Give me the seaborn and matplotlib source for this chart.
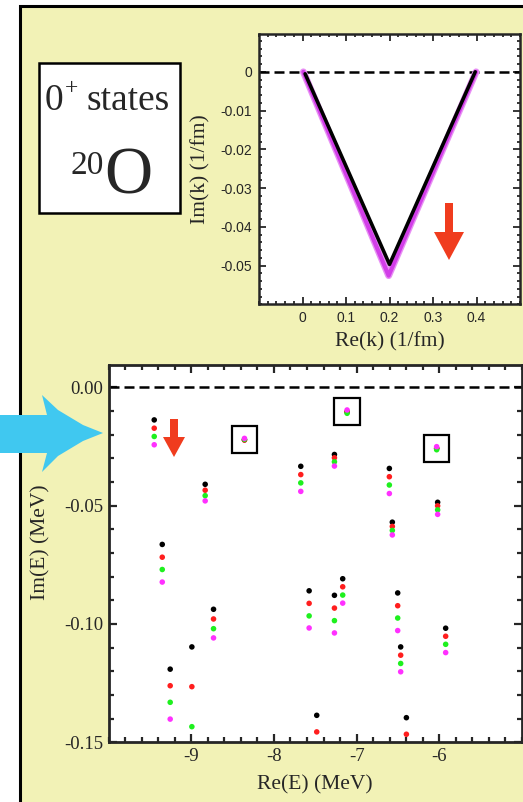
import numpy as np
import pandas as pd
import matplotlib
import matplotlib.pyplot as plt
import seaborn as sns
from matplotlib.patches import Rectangle, Polygon, FancyArrow
from matplotlib.transforms import IdentityTransform
from matplotlib.ticker import FixedLocator, MultipleLocator

# --- bottom panel: complex energies of 0+ resonances, four calculations ---
re_e = [-9.447, -8.356, -8.831, -9.350, -8.730, -9.254, -8.992, -7.675, -7.268, -7.115,
        -6.604, -6.032, -6.568, -6.020, -7.574, -7.268, -7.168, -6.503, -6.467, -5.923,
        -7.482, -6.398]
im_black = [-0.0138, -0.0222, -0.0410, -0.0664, -0.0938, -0.1191, -0.1097, -0.0334, -0.0284, -0.0104,
            -0.0343, -0.0258, -0.0570, -0.0486, -0.0860, -0.0879, -0.0809, -0.0869, -0.1097, -0.1018,
            -0.1386, -0.1396]
im_red = [-0.0173, -0.0223, -0.0435, -0.0718, -0.0979, -0.1261, -0.1265, -0.0369, -0.0298, -0.0104,
          -0.0378, -0.0258, -0.0588, -0.0501, -0.0913, -0.0933, -0.0843, -0.0923, -0.1132, -0.1052,
          -0.1456, -0.1466]
im_green = [-0.0208, -0.0220, -0.0458, -0.0770, -0.1020, -0.1331, -0.1434, -0.0404, -0.0315, -0.0110,
            -0.0413, -0.0264, -0.0605, -0.0518, -0.0966, -0.0986, -0.0878, -0.0975, -0.1167, -0.1086,
            np.nan, np.nan]
im_magenta = [-0.0243, -0.0216, -0.0480, -0.0823, -0.1059, -0.1402, np.nan, -0.0440, -0.0333, -0.0096,
              -0.0449, -0.0251, -0.0624, -0.0537, -0.1017, -0.1038, -0.0912, -0.1028, -0.1202, -0.1121,
              np.nan, np.nan]
calc_names = ["black", "red", "green", "magenta"]
calc_colors = ["black", "#ff1e1e", "#1ef01e", "#ff30ff"]
boxed = [1, 9, 11]  # states marked with a square

# --- inset: contour in the complex k plane ---
k_re_black = [0.006, 0.200, 0.397]
k_im_black = [-0.0005, -0.0497, 0.0]
k_re_mag = [0.002, 0.198, 0.399]
k_im_mag = [0.0, -0.0526, 0.0]

W, H = 523, 802
sns.set_style("ticks")
plt.rcParams["font.family"] = ["Liberation Serif", "DejaVu Serif"]
plt.rcParams["axes.unicode_minus"] = False

fig = plt.figure(figsize=(W / 100, H / 100), dpi=100)
fig.patch.set_facecolor("white")

def px(x, y):
    # image pixel (y down) -> display coords
    return (x, H - y)

# yellow panel
panel = Rectangle(px(20, 1000), 600, 1000 - 6, transform=IdentityTransform(),
                  facecolor="#f2f2b6", edgecolor="black", lw=2.2, zorder=0)
fig.add_artist(panel)

# main axes
ax = fig.add_axes([108.5 / W, (H - 742.3) / H, 413.5 / W, 377.3 / H])
ax.set_facecolor("white")
df = pd.DataFrame({
    "re": re_e * 4,
    "im": im_black + im_red + im_green + im_magenta,
    "calc": sum([[c] * len(re_e) for c in calc_names], []),
})
df = df.dropna()
ax.axhline(0, color="black", lw=1.8, dashes=(4, 2), zorder=1)
sns.scatterplot(data=df, x="re", y="im", hue="calc", hue_order=calc_names,
                palette=calc_colors, s=16, linewidth=0, legend=False, ax=ax, zorder=3)
for i in boxed:
    cx = re_e[i]
    cy = np.nanmean([im_black[i], im_red[i], im_green[i], im_magenta[i]])
    ax.add_patch(Rectangle((cx - 0.153, cy - 0.0057), 0.306, 0.0114,
                           fill=False, edgecolor="black", lw=1.6, zorder=4))
ax.set_xlim(-10, -5)
ax.set_ylim(-0.15, 0.0094)
ax.set_xticks([-9, -8, -7, -6])
ax.set_xticklabels(["-9", "-8", "-7", "-6"])
ax.set_yticks([0, -0.05, -0.10, -0.15])
ax.set_yticklabels(["0.00", "-0.05", "-0.10", "-0.15"])
ax.xaxis.set_minor_locator(MultipleLocator(0.2))
ax.yaxis.set_minor_locator(MultipleLocator(0.01))
ax.tick_params(which="both", direction="in", top=True, right=True, width=1.6, labelsize=13.5, pad=4)
ax.tick_params(which="major", length=6)
ax.tick_params(which="minor", length=3.5)
for sp in ax.spines.values():
    sp.set_linewidth(2)
ax.set_xlabel("Re(E) (MeV)", fontsize=15.5)
ax.set_ylabel("Im(E) (MeV)", fontsize=15.5)
ax.xaxis.set_label_coords(0.5, -0.087)
ax.yaxis.set_label_coords(-0.14, 0.53)

# inset axes
ax2 = fig.add_axes([259 / W, (H - 304.3) / H, 261 / W, 270 / H])
ax2.set_facecolor("white")
ax2.axhline(0, color="black", lw=1.8, dashes=(4, 2), zorder=1)
sns.lineplot(x=k_re_mag, y=k_im_mag, sort=False, estimator=None, color="#e890f4", lw=5, ax=ax2, zorder=2)
sns.lineplot(x=k_re_mag, y=k_im_mag, sort=False, estimator=None, color="#d23ee8", lw=3, ax=ax2, zorder=2)
sns.lineplot(x=k_re_black, y=k_im_black, sort=False, estimator=None, color="black", lw=2.6, ax=ax2, zorder=3)
ax2.set_xlim(-0.1, 0.5)
ax2.set_ylim(-0.06, 0.0097)
ax2.xaxis.set_major_locator(FixedLocator([0, 0.1, 0.2, 0.3, 0.4]))
ax2.set_xticklabels(["0", "0.1", "0.2", "0.3", "0.4"])
ax2.yaxis.set_major_locator(FixedLocator([0, -0.01, -0.02, -0.03, -0.04, -0.05]))
ax2.set_yticklabels(["0", "-0.01", "-0.02", "-0.03", "-0.04", "-0.05"])
ax2.xaxis.set_minor_locator(MultipleLocator(0.02))
ax2.yaxis.set_minor_locator(MultipleLocator(0.002))
ax2.tick_params(which="both", direction="in", top=True, right=True, width=1.3, labelsize=10, pad=5)
ax2.tick_params(which="major", length=5)
ax2.tick_params(which="minor", length=2.5)
for lab in ax2.get_xticklabels() + ax2.get_yticklabels():
    lab.set_family(["Liberation Sans", "DejaVu Sans"])
for sp in ax2.spines.values():
    sp.set_linewidth(1.8)
ax2.set_xlabel("Re(k) (1/fm)", fontsize=15.5)
ax2.set_ylabel("Im(k) (1/fm)", fontsize=15.5)
ax2.xaxis.set_label_coords(0.5, -0.103)
ax2.yaxis.set_label_coords(-0.184, 0.5)

# label box
fig.add_artist(Rectangle(px(38.5, 212.5), 141, 149.5, transform=IdentityTransform(),
                         facecolor="white", edgecolor="black", lw=1.8, zorder=2))
fig.text(45 / W, 1 - 110 / H, "0", fontsize=27, ha="left", va="baseline", zorder=3)
fig.text(65 / W, 1 - 94 / H, "+", fontsize=17, ha="left", va="baseline", zorder=3)
fig.text(87 / W, 1 - 110 / H, "states", fontsize=27, ha="left", va="baseline", zorder=3)
fig.text(104 / W, 1 - 174 / H, "20", fontsize=24, ha="right", va="baseline", zorder=3)
fig.text(104 / W, 1 - 194 / H, "O", fontsize=48, ha="left", va="baseline", zorder=3)

# red arrows
fig.add_artist(FancyArrow(449, H - 203, 0, -57, width=8, head_width=30, head_length=28,
                          length_includes_head=True, transform=IdentityTransform(),
                          color="#f03c1e", lw=0, zorder=5))
fig.add_artist(FancyArrow(174, H - 419, 0, -38, width=8, head_width=22, head_length=20,
                          length_includes_head=True, transform=IdentityTransform(),
                          color="#f03c1e", lw=0, zorder=5))

# blue arrow on the left
blue_pts = [(0, 415), (47, 415), (42, 395), (58, 410), (83, 425), (103, 433), (83, 441),
            (58, 456), (42, 472), (47, 453), (0, 453)]
fig.add_artist(Polygon([px(x, y) for x, y in blue_pts], closed=True, transform=IdentityTransform(),
                       facecolor="#40c8f0", edgecolor="none", zorder=6))

fig.savefig("out.png", dpi=100)
